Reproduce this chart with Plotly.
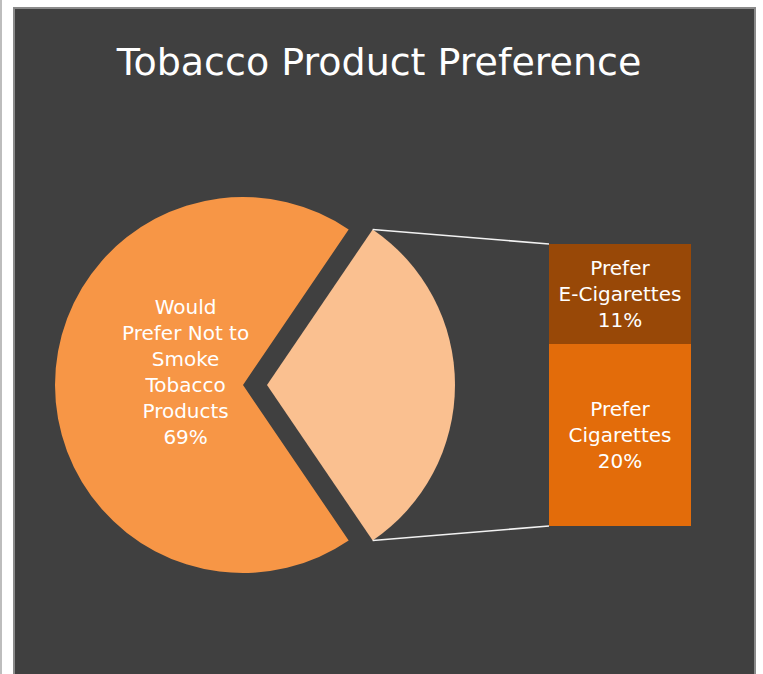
import math
import plotly.graph_objects as go

# ---- data -------------------------------------------------------------
title_text = "Tobacco Product Preference"
main_label = "Would Prefer Not to Smoke Tobacco Products"
main_value = 69                      # percent
bar_labels = ["Prefer Cigarettes", "Prefer E-Cigarettes"]
bar_values = [20, 11]                # percent, stacked bottom -> top
pie_label_lines = ["Would", "Prefer Not to", "Smoke", "Tobacco", "Products"]
bar_label_lines = [["Prefer", "Cigarettes"], ["Prefer", "E-Cigarettes"]]

# ---- colours ----------------------------------------------------------
PANEL = "#404040"
BORDER = "#8a8a8a"
MAIN_COL = "#F79646"
SPLIT_COL = "#FAC090"
BAR_COLS = ["#E36C0A", "#984807"]
TEXT_COL = "#FFFFFF"
FONT = "DejaVu Sans"

# ---- canvas geometry (pixels) -----------------------------------------
W, H = 763, 674
pie_cx, pie_cy = 243, 385            # centre of the un-exploded pie
pie_r = 188                          # drawn radius
explode_px = 24                      # how far the split slice is pulled out
bar_left, bar_right = 549, 691
bar_top, bar_bottom = 244, 526


def px(x):
    return x / W


def py(y):
    return 1 - y / H


split_value = sum(bar_values)
total = main_value + split_value
pull = explode_px / pie_r
half_box = pie_r * (1 + pull)        # plotly: r = min(w, h) / (2 + 2*pull)
split_half_angle = split_value / total * 360 / 2

fig = go.Figure()

# pie: the split slice first, starting so that it is centred on 3 o'clock
fig.add_trace(go.Pie(
    values=[split_value, main_value],
    labels=["Other", main_label],
    sort=False,
    direction="clockwise",
    rotation=90 - split_half_angle,
    pull=[pull, 0],
    marker=dict(colors=[SPLIT_COL, MAIN_COL], line=dict(width=0)),
    textinfo="none",
    hoverinfo="label+percent",
    showlegend=False,
    domain=dict(x=[px(pie_cx - half_box), px(pie_cx + half_box)],
                y=[py(pie_cy + half_box), py(pie_cy - half_box)]),
))

# stacked bar breaking down the split slice
for lab, val, col, lines in zip(bar_labels, bar_values, BAR_COLS, bar_label_lines):
    fig.add_trace(go.Bar(
        x=[0], y=[val], name=lab,
        marker=dict(color=col, line=dict(width=0)),
        text=["<br>".join(lines + [f"{val}%"])],
        textposition="inside",
        insidetextanchor="middle",
        textangle=0,
        textfont=dict(family=FONT, size=20, color=TEXT_COL),
        hoverinfo="name+y",
        showlegend=False,
    ))

# label of the main slice
fig.add_annotation(
    x=px(185), y=py(372), xref="paper", yref="paper",
    xanchor="center", yanchor="middle",
    text="<br>".join(pie_label_lines + [f"{main_value}%"]),
    showarrow=False, align="center",
    font=dict(family=FONT, size=20, color=TEXT_COL),
)

# connector lines from the split slice's outer corners to the bar corners
ex_cx = pie_cx + explode_px
a = math.radians(split_half_angle)
corner_top = (ex_cx + pie_r * math.cos(a), pie_cy - pie_r * math.sin(a))
corner_bot = (ex_cx + pie_r * math.cos(a), pie_cy + pie_r * math.sin(a))
shapes = [
    # chart panel
    dict(type="rect", xref="paper", yref="paper",
         x0=px(14), x1=px(755), y0=-0.02, y1=py(8),
         fillcolor=PANEL, line=dict(color=BORDER, width=2), layer="below"),
    # thin rule at the left page edge
    dict(type="line", xref="paper", yref="paper",
         x0=px(1), x1=px(1), y0=0, y1=1,
         line=dict(color="#bdbdbd", width=2), layer="below"),
    dict(type="line", xref="paper", yref="paper",
         x0=px(corner_top[0]), y0=py(corner_top[1]),
         x1=px(bar_left), y1=py(bar_top),
         line=dict(color="#F2F2F2", width=1.6), layer="above"),
    dict(type="line", xref="paper", yref="paper",
         x0=px(corner_bot[0]), y0=py(corner_bot[1]),
         x1=px(bar_left), y1=py(bar_bottom),
         line=dict(color="#F2F2F2", width=1.6), layer="above"),
]

fig.update_layout(
    width=W, height=H,
    margin=dict(l=0, r=0, t=0, b=0),
    paper_bgcolor="#FFFFFF",
    plot_bgcolor="rgba(0,0,0,0)",
    barmode="stack",
    bargap=0,
    shapes=shapes,
    title=dict(text=title_text, x=px(379), xanchor="center",
               y=py(62), yanchor="middle",
               font=dict(family=FONT, size=38, color=TEXT_COL)),
    xaxis=dict(domain=[px(bar_left), px(bar_right)], range=[-0.5, 0.5],
               visible=False, fixedrange=True),
    yaxis=dict(domain=[py(bar_bottom), py(bar_top)], range=[0, split_value],
               visible=False, fixedrange=True),
)

fig.write_html("out.html")
